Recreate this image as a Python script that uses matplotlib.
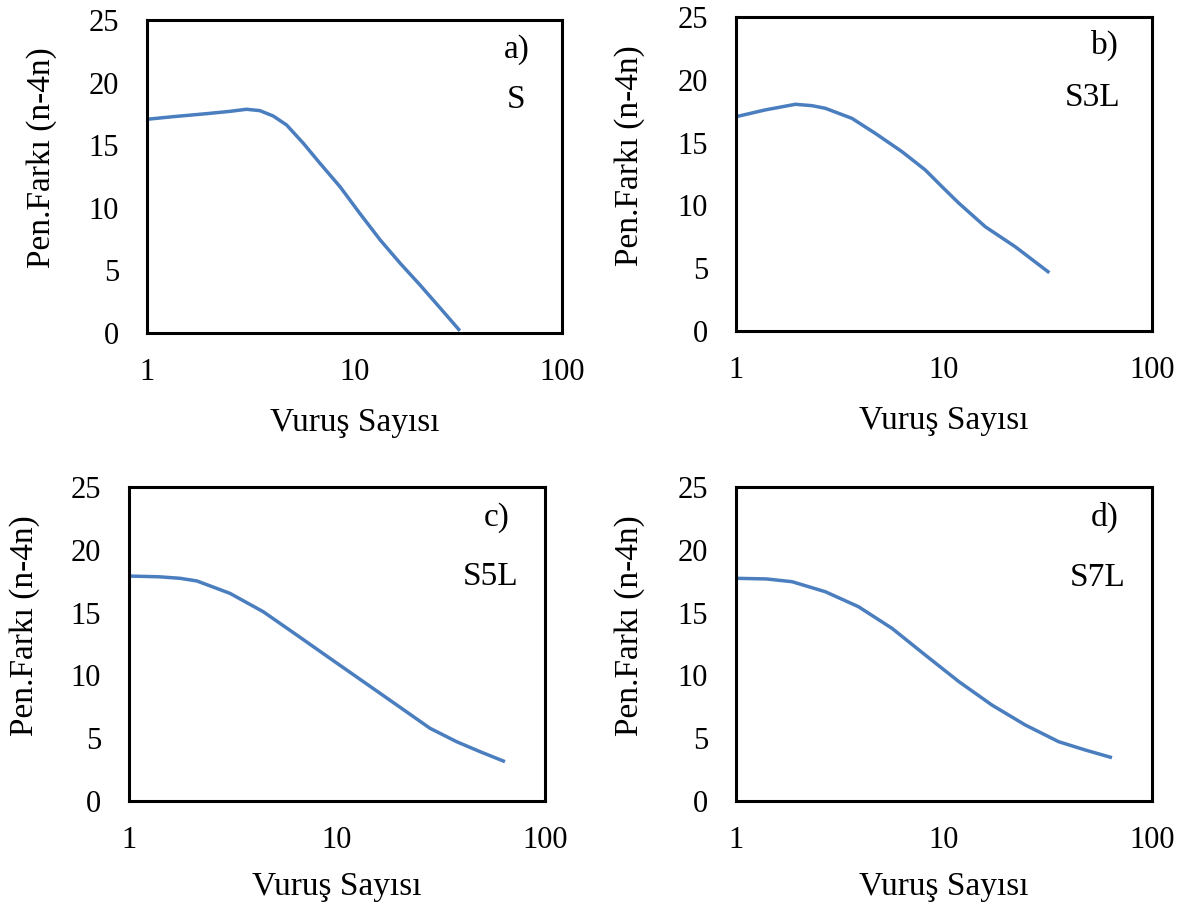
import matplotlib
matplotlib.use("Agg")
import matplotlib.pyplot as plt

plt.rcParams['font.family'] = ['Liberation Serif', 'DejaVu Serif']

# Data (x: Vuruş Sayısı, y: Pen.Farkı (n-4n))
x_a = [1.0, 1.34, 1.94, 2.5, 3.02, 3.50, 4.06, 4.71, 5.67, 6.82, 8.51, 10.6, 13.3, 16.6, 20.7, 25.8, 32.2]
y_a = [17.07, 17.28, 17.52, 17.7, 17.87, 17.76, 17.33, 16.61, 15.15, 13.55, 11.69, 9.56, 7.43, 5.57, 3.83, 2.02, 0.18]

x_b = [1.0, 1.38, 1.93, 2.32, 2.69, 3.61, 4.67, 6.28, 8.13, 9.78, 11.8, 15.8, 22.0, 32.1]
y_b = [17.06, 17.6, 18.05, 17.94, 17.73, 16.93, 15.74, 14.28, 12.82, 11.49, 10.17, 8.30, 6.71, 4.64]

x_c = [1.0, 1.4, 1.76, 2.12, 3.06, 4.42, 6.40, 9.25, 13.4, 19.4, 28.0, 37.6, 48.7, 64.2]
y_c = [17.91, 17.85, 17.73, 17.52, 16.53, 15.07, 13.22, 11.36, 9.50, 7.64, 5.79, 4.72, 3.93, 3.13]

x_d = [1.0, 1.4, 1.86, 2.69, 3.88, 5.62, 8.13, 11.8, 17.0, 24.6, 35.6, 48.0, 64.2]
y_d = [17.73, 17.68, 17.46, 16.66, 15.47, 13.75, 11.62, 9.50, 7.64, 6.05, 4.72, 4.05, 3.45]

panel_tags = ['a)', 'b)', 'c)', 'd)']
panel_names = ['S', 'S3L', 'S5L', 'S7L']
y_ticks = [0, 5, 10, 15, 20, 25]
x_ticks = [1, 10, 100]
x_ticklabels = ['1', '10', '100']
ylabel = 'Pen.Farkı (n-4n)'
xlabel = 'Vuruş Sayısı'

W, H = 1184, 906
fig = plt.figure(figsize=(W / 100, H / 100), dpi=100)

# axes rectangles in pixels: left, top, right, bottom
rects = [(147, 20, 562, 333), (736, 17, 1152, 331),
         (129, 487, 545, 801), (736, 487, 1152, 801)]
series = [(x_a, y_a), (x_b, y_b), (x_c, y_c), (x_d, y_d)]
tag_pos = [(0.89, 0.904), (0.887, 0.911), (0.885, 0.904), (0.887, 0.904)]
name_pos = [(0.89, 0.744), (0.858, 0.742), (0.868, 0.713), (0.87, 0.71)]
ylab_x = [-0.255, -0.255, -0.25, -0.255]
xlab_y = [-0.288, -0.286, -0.274, -0.274]

line_color = '#4A7EBF'
fs_tick = 22
fs_lab = 24

for i, ((l, t, r, b), (xs, ys)) in enumerate(zip(rects, series)):
    ax = fig.add_axes([l / W, (H - b) / H, (r - l) / W, (b - t) / H])
    ax.plot(xs, ys, color=line_color, lw=2.5, solid_capstyle='butt',
            solid_joinstyle='round')
    ax.set_xscale('log')
    ax.set_xlim(1, 100)
    ax.set_ylim(0, 25)
    ax.set_xticks(x_ticks)
    ax.set_xticklabels(x_ticklabels)
    ax.xaxis.set_minor_locator(matplotlib.ticker.NullLocator())
    ax.set_yticks(y_ticks)
    ax.tick_params(axis='both', length=0, labelsize=fs_tick)
    ax.tick_params(axis='y', pad=20)
    ax.tick_params(axis='x', pad=18)
    for s in ax.spines.values():
        s.set_linewidth(2.2)
        s.set_color('black')
    ax.set_ylabel(ylabel, fontsize=fs_lab, va='center', ha='center')
    ax.set_xlabel(xlabel, fontsize=fs_lab, va='center', ha='center')
    ax.yaxis.set_label_coords(ylab_x[i], 0.56)
    ax.xaxis.set_label_coords(0.5, xlab_y[i])
    ax.text(tag_pos[i][0], tag_pos[i][1], panel_tags[i], transform=ax.transAxes,
            fontsize=fs_lab, ha='center', va='center')
    ax.text(name_pos[i][0], name_pos[i][1], panel_names[i], transform=ax.transAxes,
            fontsize=fs_lab, ha='center', va='center')

fig.savefig('out.png', dpi=100)
